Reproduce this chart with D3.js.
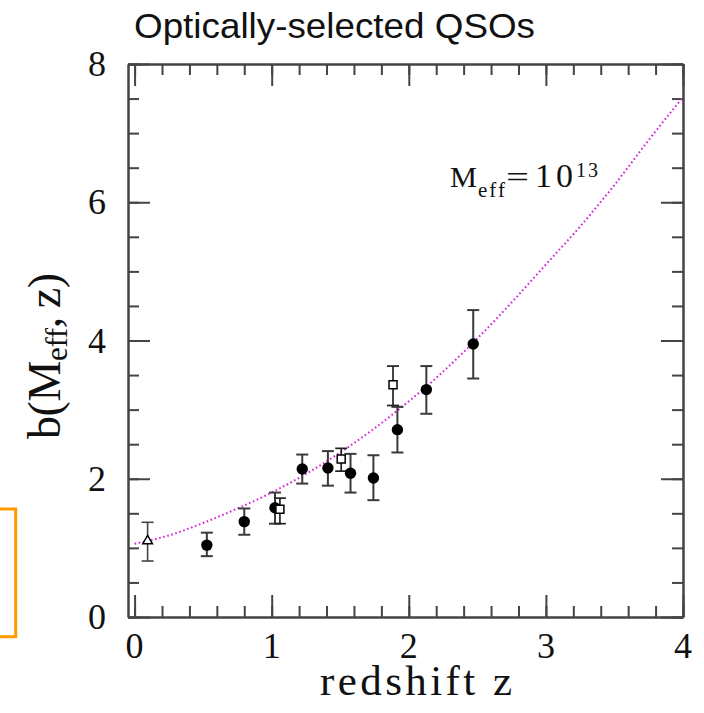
<!DOCTYPE html>
<html lang="en">
<head>
  <meta charset="utf-8" />
  <title>Optically-selected QSOs</title>
  <style type="text/css">
    body { margin: 0; background: #fff; }
    .axis path, .axis line { stroke: #444; stroke-width: 2; }
    .tick-label { font-family: "Liberation Serif", serif; font-size: 36px; fill: #111; }
  </style>
</head>
<body>
  <div id="graphic"></div>

  <script src="https://cdn.jsdelivr.net/npm/d3@7/dist/d3.min.js" type="text/javascript"></script>
  <script>
    // ---- data ----
    // filled circles: redshift, bias, lower error, upper error
    var circle_z    = [0.527, 0.80, 1.024, 1.223, 1.41, 1.575, 1.742, 1.917, 2.128, 2.47];
    var circle_b    = [1.04, 1.38, 1.58, 2.14, 2.155, 2.08, 2.01, 2.71, 3.29, 3.95];
    var circle_lo   = [0.88, 1.19, 1.35, 1.93, 1.90, 1.80, 1.69, 2.38, 2.94, 3.45];
    var circle_hi   = [1.22, 1.57, 1.80, 2.35, 2.40, 2.36, 2.34, 3.04, 3.63, 4.44];

    // open squares
    var square_z    = [1.06, 1.507, 1.885];
    var square_b    = [1.56, 2.285, 3.36];
    var square_lo   = [1.35, 2.11, 3.06];
    var square_hi   = [1.72, 2.44, 3.63];

    // open triangle
    var tri_z       = [0.095];
    var tri_b       = [1.10];
    var tri_lo      = [0.81];
    var tri_hi      = [1.37];

    // model curve for M_eff = 10^13
    var curve_z     = [0, 0.25, 0.5, 0.75, 1.0, 1.25, 1.5, 1.75, 2.0, 2.25, 2.5, 2.75, 3.0, 3.25, 3.5, 3.75, 4.0];
    var curve_b     = [1.06, 1.18, 1.36, 1.57, 1.80, 2.07, 2.38, 2.73, 3.12, 3.55, 4.03, 4.55, 5.10, 5.65, 6.25, 6.90, 7.52];

    var xTicks = [0, 1, 2, 3, 4];
    var yTicks = [0, 2, 4, 6, 8];

    var width = 704, height = 713;
    var frame = {left: 128, right: 683, top: 64, bottom: 617};

    var svg = d3.select('#graphic').append('svg')
      .attr('width', width)
      .attr('height', height);

    var x = d3.scaleLinear()
      .domain([-0.048, 4])
      .range([frame.left, frame.right]);

    var y = d3.scaleLinear()
      .domain([0, 8])
      .range([frame.bottom, frame.top]);

    // leftover box of the neighbouring panel
    svg.append('rect')
      .attr('x', -20).attr('y', 509)
      .attr('width', 35.7).attr('height', 127.7)
      .attr('fill', 'none')
      .attr('stroke', '#ff9a00')
      .attr('stroke-width', 3);

    // title
    svg.append('text')
      .attr('x', 134).attr('y', 38)
      .attr('textLength', 401)
      .attr('lengthAdjust', 'spacingAndGlyphs')
      .style('font-family', '"Liberation Sans", Arial, sans-serif')
      .style('font-size', '35px')
      .style('fill', '#111')
      .text('Optically-selected QSOs');

    // ---- axes (ticks point inward on all four sides) ----
    var xMinor = d3.range(0, 4.001, 0.2);
    var yMinor = d3.range(0, 8.001, 0.5);

    function addAxis(axis, tx, ty) {
      var g = svg.append('g')
        .attr('class', 'axis')
        .attr('transform', 'translate(' + tx + ',' + ty + ')')
        .call(axis);
      g.selectAll('text').remove();
      return g;
    }

    addAxis(d3.axisBottom(x).tickValues(xMinor).tickSize(-11).tickSizeOuter(0), 0, frame.bottom);
    addAxis(d3.axisBottom(x).tickValues(xTicks).tickSize(-22).tickSizeOuter(0), 0, frame.bottom);
    addAxis(d3.axisTop(x).tickValues(xMinor).tickSize(-11).tickSizeOuter(0), 0, frame.top);
    addAxis(d3.axisTop(x).tickValues(xTicks).tickSize(-22).tickSizeOuter(0), 0, frame.top);
    addAxis(d3.axisLeft(y).tickValues(yMinor).tickSize(-11).tickSizeOuter(0), frame.left, 0);
    addAxis(d3.axisLeft(y).tickValues(yTicks).tickSize(-22).tickSizeOuter(0), frame.left, 0);
    addAxis(d3.axisRight(y).tickValues(yMinor).tickSize(-11).tickSizeOuter(0), frame.right, 0);
    addAxis(d3.axisRight(y).tickValues(yTicks).tickSize(-22).tickSizeOuter(0), frame.right, 0);

    // tick labels
    svg.selectAll('.xlab')
      .data(xTicks)
      .enter().append('text')
      .attr('class', 'tick-label')
      .attr('x', function(d){ return x(d); })
      .attr('y', 658)
      .attr('text-anchor', 'middle')
      .text(function(d){ return d; });

    svg.selectAll('.ylab')
      .data(yTicks)
      .enter().append('text')
      .attr('class', 'tick-label')
      .attr('x', 106)
      .attr('y', function(d){ return y(d) + 12; })
      .attr('text-anchor', 'end')
      .text(function(d){ return d; });

    // axis titles
    svg.append('text')
      .attr('x', 416).attr('y', 695)
      .attr('text-anchor', 'middle')
      .attr('textLength', 192)
      .attr('lengthAdjust', 'spacing')
      .style('font-family', '"Liberation Serif", serif')
      .style('font-size', '43px')
      .style('fill', '#111')
      .text('redshift z');

    var ylab = svg.append('text')
      .attr('transform', 'translate(60,356) rotate(-90)')
      .attr('text-anchor', 'middle')
      .attr('textLength', 166)
      .attr('lengthAdjust', 'spacing')
      .style('font-family', '"Liberation Serif", serif')
      .style('font-size', '46px')
      .style('fill', '#111');
    ylab.append('tspan').text('b(M');
    ylab.append('tspan').attr('dy', 7).style('font-size', '31px').text('eff');
    ylab.append('tspan').attr('dy', -7).text(',\u2009z)');

    // ---- model curve ----
    var line = d3.line()
      .x(function(d){ return x(d[0]); })
      .y(function(d){ return y(d[1]); })
      .curve(d3.curveMonotoneX);

    svg.append('path')
      .datum(d3.zip(curve_z, curve_b))
      .attr('d', line)
      .attr('fill', 'none')
      .attr('stroke', '#d81ed8')
      .attr('stroke-width', 2)
      .attr('stroke-dasharray', '1.6,2.6');

    // curve label
    var lab = svg.append('g')
      .style('font-family', '"Liberation Serif", serif')
      .style('fill', '#111');
    lab.append('text').attr('x', 450).attr('y', 187).style('font-size', '30px')
      .attr('textLength', 27).attr('lengthAdjust', 'spacingAndGlyphs').text('M');
    lab.append('text').attr('x', 478).attr('y', 197).style('font-size', '21px')
      .attr('textLength', 27).attr('lengthAdjust', 'spacing').text('eff');
    lab.append('text').attr('x', 506).attr('y', 187).style('font-size', '30px')
      .attr('textLength', 23).attr('lengthAdjust', 'spacingAndGlyphs').text('=');
    lab.append('text').attr('x', 535).attr('y', 187).style('font-size', '34px')
      .attr('textLength', 38).attr('lengthAdjust', 'spacing').text('10');
    lab.append('text').attr('x', 576).attr('y', 177).style('font-size', '20px')
      .attr('textLength', 22).attr('lengthAdjust', 'spacing').text('13');

    // ---- data points with error bars ----
    function errorBars(zs, bs, lo, hi, colour, w) {
      var data = d3.zip(zs, bs, lo, hi);
      var g = svg.append('g')
        .attr('stroke', colour)
        .attr('stroke-width', w);
      g.selectAll('.bar')
        .data(data).enter().append('line')
        .attr('x1', function(d){ return x(d[0]); })
        .attr('x2', function(d){ return x(d[0]); })
        .attr('y1', function(d){ return y(d[2]); })
        .attr('y2', function(d){ return y(d[3]); });
      g.selectAll('.caplo')
        .data(data).enter().append('line')
        .attr('x1', function(d){ return x(d[0]) - 6; })
        .attr('x2', function(d){ return x(d[0]) + 6; })
        .attr('y1', function(d){ return y(d[2]); })
        .attr('y2', function(d){ return y(d[2]); });
      g.selectAll('.caphi')
        .data(data).enter().append('line')
        .attr('x1', function(d){ return x(d[0]) - 6; })
        .attr('x2', function(d){ return x(d[0]) + 6; })
        .attr('y1', function(d){ return y(d[3]); })
        .attr('y2', function(d){ return y(d[3]); });
      return data;
    }

    var circles = errorBars(circle_z, circle_b, circle_lo, circle_hi, '#3a3a3a', 2);
    var squares = errorBars(square_z, square_b, square_lo, square_hi, '#222', 1.7);
    var tris = errorBars(tri_z, tri_b, tri_lo, tri_hi, '#444', 1.6);

    svg.selectAll('.circ')
      .data(circles).enter().append('circle')
      .attr('cx', function(d){ return x(d[0]); })
      .attr('cy', function(d){ return y(d[1]); })
      .attr('r', 5.7)
      .attr('fill', '#000');

    svg.selectAll('.sq')
      .data(squares).enter().append('path')
      .attr('transform', function(d){ return 'translate(' + x(d[0]) + ',' + y(d[1]) + ')'; })
      .attr('d', d3.symbol(d3.symbolSquare, 64))
      .attr('fill', '#fff')
      .attr('stroke', '#000')
      .attr('stroke-width', 1.5);

    svg.selectAll('.tri')
      .data(tris).enter().append('path')
      .attr('transform', function(d){ return 'translate(' + x(d[0]) + ',' + y(d[1]) + ')'; })
      .attr('d', d3.symbol(d3.symbolTriangle, 40))
      .attr('fill', '#fff')
      .attr('stroke', '#000')
      .attr('stroke-width', 1.5);
  </script>
</body>
</html>
